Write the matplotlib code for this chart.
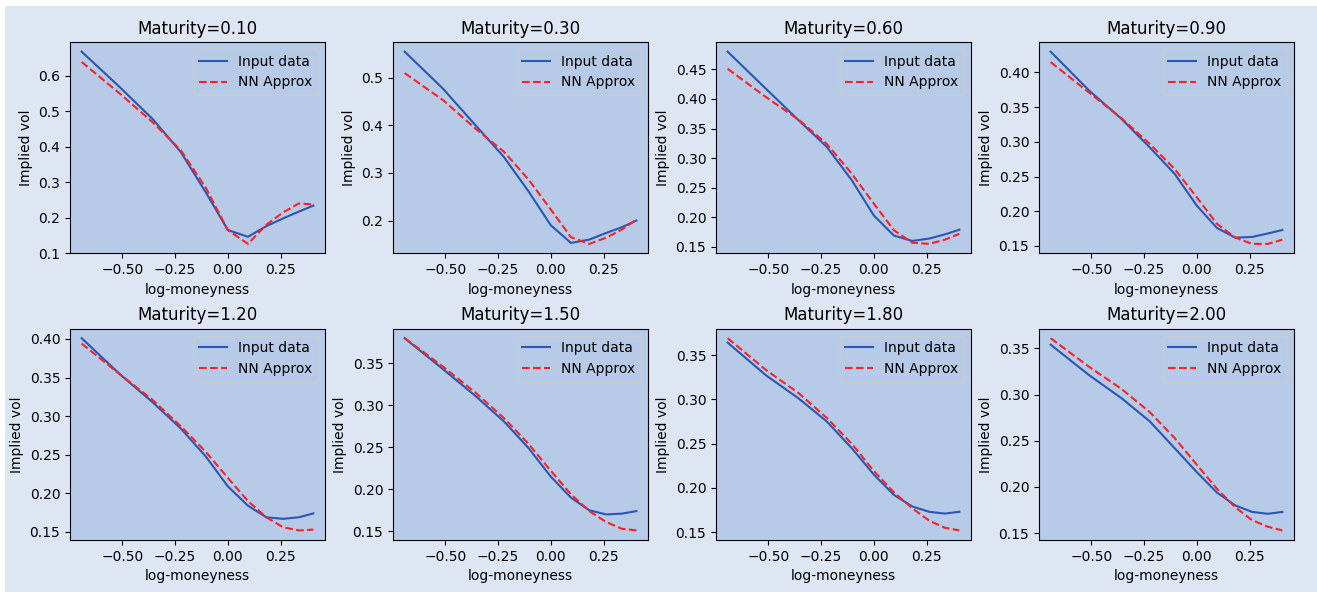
import numpy as np
import matplotlib
matplotlib.use("Agg")
import matplotlib.pyplot as plt
from matplotlib.patches import Rectangle
from matplotlib.ticker import MultipleLocator

# log-moneyness grid: log(K) for K = 0.5 ... 1.5
strikes = [0.5, 0.6, 0.7, 0.8, 0.9, 1.0, 1.1, 1.2, 1.3, 1.4, 1.5]
log_moneyness = np.log(strikes)

maturities = [0.10, 0.30, 0.60, 0.90, 1.20, 1.50, 1.80, 2.00]

# implied vols from the input surface, one row per maturity
input_vols = [
    [0.668, 0.567, 0.478, 0.385, 0.272, 0.165, 0.146, 0.176, 0.198, 0.217, 0.234],
    [0.555, 0.477, 0.400, 0.334, 0.261, 0.190, 0.153, 0.160, 0.174, 0.186, 0.200],
    [0.480, 0.417, 0.364, 0.319, 0.263, 0.203, 0.169, 0.160, 0.164, 0.171, 0.179],
    [0.430, 0.374, 0.333, 0.292, 0.254, 0.208, 0.176, 0.162, 0.163, 0.168, 0.173],
    [0.401, 0.354, 0.318, 0.284, 0.248, 0.209, 0.184, 0.169, 0.167, 0.169, 0.174],
    [0.380, 0.343, 0.311, 0.281, 0.249, 0.215, 0.190, 0.175, 0.170, 0.171, 0.174],
    [0.364, 0.327, 0.301, 0.275, 0.245, 0.215, 0.192, 0.179, 0.173, 0.171, 0.173],
    [0.354, 0.321, 0.296, 0.271, 0.242, 0.216, 0.194, 0.180, 0.173, 0.171, 0.173],
]

# network approximation on the same grid
nn_vols = [
    [0.639, 0.549, 0.469, 0.390, 0.285, 0.165, 0.126, 0.180, 0.215, 0.240, 0.237],
    [0.510, 0.453, 0.393, 0.345, 0.286, 0.223, 0.165, 0.151, 0.164, 0.181, 0.202],
    [0.451, 0.403, 0.365, 0.324, 0.274, 0.223, 0.178, 0.157, 0.155, 0.162, 0.172],
    [0.415, 0.371, 0.334, 0.297, 0.261, 0.220, 0.182, 0.162, 0.153, 0.153, 0.159],
    [0.394, 0.354, 0.321, 0.287, 0.254, 0.220, 0.190, 0.169, 0.156, 0.152, 0.153],
    [0.380, 0.346, 0.315, 0.285, 0.254, 0.222, 0.194, 0.174, 0.161, 0.153, 0.151],
    [0.369, 0.333, 0.307, 0.279, 0.250, 0.219, 0.195, 0.177, 0.163, 0.155, 0.152],
    [0.361, 0.330, 0.306, 0.281, 0.253, 0.224, 0.198, 0.178, 0.164, 0.157, 0.153],
]

PANEL_BG = "#dfe6f3"
AXES_BG = "#b7cbe9"
BLUE = "#2a56b4"

plt.rcParams["axes.facecolor"] = AXES_BG

fig, axes = plt.subplots(2, 4, figsize=(13.17, 5.92), dpi=100)
fig.patch.set_facecolor("white")
fig.patches.append(Rectangle((5 / 1317, 0), 1, 1 - 6 / 592, transform=fig.transFigure,
                             facecolor=PANEL_BG, edgecolor="none", zorder=-10))
fig.subplots_adjust(left=0.0532, right=0.9825, top=0.929, bottom=0.0878,
                    wspace=0.267, hspace=0.355)

for i, (ax, T, iv, nn) in enumerate(zip(axes.flat, maturities, input_vols, nn_vols)):
    ax.plot(log_moneyness, iv, color=BLUE, label="Input data")
    ax.plot(log_moneyness, nn, "--", color="#ff2020", label="NN Approx")
    ax.set_title("Maturity=%.2f" % T)
    ax.set_xlabel("log-moneyness")
    ax.set_ylabel("Implied vol")
    ax.set_xticks([-0.5, -0.25, 0.0, 0.25])
    if i == 2:
        ax.yaxis.set_major_locator(MultipleLocator(0.05))
    ax.legend(loc="upper right")

fig.savefig("out.png", dpi=100, facecolor=fig.get_facecolor())
